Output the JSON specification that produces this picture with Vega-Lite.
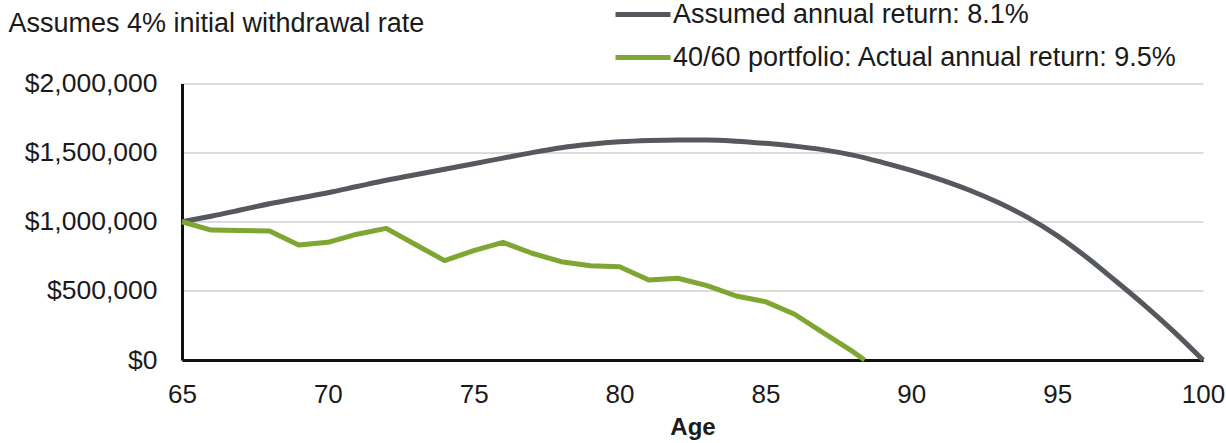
{
  "$schema": "https://vega.github.io/schema/vega-lite/v6.json",
  "width": 1021,
  "height": 276.5,
  "autosize": {"type": "none"},
  "padding": {"left": 182, "top": 83.5, "right": 23, "bottom": 83},
  "background": "white",
  "config": {
    "font": "Liberation Sans",
    "view": {"stroke": null}
  },
  "data": {
    "values": [
      {"age": 65, "value": 1000000, "series": "Assumed annual return: 8.1%"},
      {"age": 66, "value": 1040000, "series": "Assumed annual return: 8.1%"},
      {"age": 67, "value": 1085000, "series": "Assumed annual return: 8.1%"},
      {"age": 68, "value": 1130000, "series": "Assumed annual return: 8.1%"},
      {"age": 69, "value": 1170000, "series": "Assumed annual return: 8.1%"},
      {"age": 70, "value": 1210000, "series": "Assumed annual return: 8.1%"},
      {"age": 71, "value": 1255000, "series": "Assumed annual return: 8.1%"},
      {"age": 72, "value": 1300000, "series": "Assumed annual return: 8.1%"},
      {"age": 73, "value": 1340000, "series": "Assumed annual return: 8.1%"},
      {"age": 74, "value": 1380000, "series": "Assumed annual return: 8.1%"},
      {"age": 75, "value": 1420000, "series": "Assumed annual return: 8.1%"},
      {"age": 76, "value": 1460000, "series": "Assumed annual return: 8.1%"},
      {"age": 77, "value": 1500000, "series": "Assumed annual return: 8.1%"},
      {"age": 78, "value": 1535000, "series": "Assumed annual return: 8.1%"},
      {"age": 79, "value": 1560000, "series": "Assumed annual return: 8.1%"},
      {"age": 80, "value": 1578000, "series": "Assumed annual return: 8.1%"},
      {"age": 81, "value": 1588000, "series": "Assumed annual return: 8.1%"},
      {"age": 82, "value": 1592000, "series": "Assumed annual return: 8.1%"},
      {"age": 83, "value": 1592000, "series": "Assumed annual return: 8.1%"},
      {"age": 84, "value": 1583000, "series": "Assumed annual return: 8.1%"},
      {"age": 85, "value": 1567000, "series": "Assumed annual return: 8.1%"},
      {"age": 86, "value": 1547000, "series": "Assumed annual return: 8.1%"},
      {"age": 87, "value": 1520000, "series": "Assumed annual return: 8.1%"},
      {"age": 88, "value": 1482000, "series": "Assumed annual return: 8.1%"},
      {"age": 89, "value": 1430000, "series": "Assumed annual return: 8.1%"},
      {"age": 90, "value": 1372000, "series": "Assumed annual return: 8.1%"},
      {"age": 91, "value": 1305000, "series": "Assumed annual return: 8.1%"},
      {"age": 92, "value": 1228000, "series": "Assumed annual return: 8.1%"},
      {"age": 93, "value": 1137000, "series": "Assumed annual return: 8.1%"},
      {"age": 94, "value": 1030000, "series": "Assumed annual return: 8.1%"},
      {"age": 95, "value": 900000, "series": "Assumed annual return: 8.1%"},
      {"age": 96, "value": 745000, "series": "Assumed annual return: 8.1%"},
      {"age": 97, "value": 573000, "series": "Assumed annual return: 8.1%"},
      {"age": 98, "value": 395000, "series": "Assumed annual return: 8.1%"},
      {"age": 99, "value": 205000, "series": "Assumed annual return: 8.1%"},
      {"age": 100, "value": 0, "series": "Assumed annual return: 8.1%"},
      {"age": 65, "value": 1000000, "series": "40/60 portfolio: Actual annual return: 9.5%"},
      {"age": 66, "value": 940000, "series": "40/60 portfolio: Actual annual return: 9.5%"},
      {"age": 67, "value": 937000, "series": "40/60 portfolio: Actual annual return: 9.5%"},
      {"age": 68, "value": 933000, "series": "40/60 portfolio: Actual annual return: 9.5%"},
      {"age": 69, "value": 832000, "series": "40/60 portfolio: Actual annual return: 9.5%"},
      {"age": 70, "value": 851000, "series": "40/60 portfolio: Actual annual return: 9.5%"},
      {"age": 71, "value": 910000, "series": "40/60 portfolio: Actual annual return: 9.5%"},
      {"age": 72, "value": 952000, "series": "40/60 portfolio: Actual annual return: 9.5%"},
      {"age": 73, "value": 835000, "series": "40/60 portfolio: Actual annual return: 9.5%"},
      {"age": 74, "value": 719000, "series": "40/60 portfolio: Actual annual return: 9.5%"},
      {"age": 75, "value": 791000, "series": "40/60 portfolio: Actual annual return: 9.5%"},
      {"age": 76, "value": 851000, "series": "40/60 portfolio: Actual annual return: 9.5%"},
      {"age": 77, "value": 772000, "series": "40/60 portfolio: Actual annual return: 9.5%"},
      {"age": 78, "value": 711000, "series": "40/60 portfolio: Actual annual return: 9.5%"},
      {"age": 79, "value": 682000, "series": "40/60 portfolio: Actual annual return: 9.5%"},
      {"age": 80, "value": 675000, "series": "40/60 portfolio: Actual annual return: 9.5%"},
      {"age": 81, "value": 579000, "series": "40/60 portfolio: Actual annual return: 9.5%"},
      {"age": 82, "value": 591000, "series": "40/60 portfolio: Actual annual return: 9.5%"},
      {"age": 83, "value": 538000, "series": "40/60 portfolio: Actual annual return: 9.5%"},
      {"age": 84, "value": 463000, "series": "40/60 portfolio: Actual annual return: 9.5%"},
      {"age": 85, "value": 422000, "series": "40/60 portfolio: Actual annual return: 9.5%"},
      {"age": 86, "value": 331000, "series": "40/60 portfolio: Actual annual return: 9.5%"},
      {"age": 87, "value": 195000, "series": "40/60 portfolio: Actual annual return: 9.5%"},
      {"age": 88, "value": 60000, "series": "40/60 portfolio: Actual annual return: 9.5%"},
      {"age": 88.4, "value": 0, "series": "40/60 portfolio: Actual annual return: 9.5%"}
    ]
  },
  "encoding": {
    "x": {
      "field": "age",
      "type": "quantitative",
      "scale": {"domain": [65, 100], "nice": false, "zero": false},
      "axis": {
        "values": [65, 70, 75, 80, 85, 90, 95, 100],
        "title": "Age",
        "titleFontSize": 24,
        "titleFontWeight": "bold",
        "titleColor": "#1a1a1a",
        "titlePadding": 8,
        "labelFontSize": 26,
        "labelColor": "#1a1a1a",
        "labelPadding": 21,
        "labelFlush": false,
        "ticks": false,
        "tickSize": 0,
        "grid": false,
        "domainColor": "#111111",
        "domainWidth": 3
      }
    },
    "y": {
      "field": "value",
      "type": "quantitative",
      "scale": {"domain": [0, 2000000], "nice": false},
      "axis": {
        "values": [0, 500000, 1000000, 1500000, 2000000],
        "format": "$,.0f",
        "title": "Assumes 4% initial withdrawal rate",
        "titleAngle": 0,
        "titleAlign": "left",
        "titleBaseline": "alphabetic",
        "titleX": -174,
        "titleY": -52,
        "titleFontSize": 27,
        "titleFontWeight": "normal",
        "titleColor": "#1a1a1a",
        "labelFontSize": 26.5,
        "labelColor": "#1a1a1a",
        "labelPadding": 25,
        "ticks": false,
        "tickSize": 0,
        "gridColor": "#d0d0d0",
        "gridWidth": 1.5,
        "domainColor": "#111111",
        "domainWidth": 3
      }
    },
    "color": {
      "field": "series",
      "type": "nominal",
      "sort": ["Assumed annual return: 8.1%", "40/60 portfolio: Actual annual return: 9.5%"],
      "scale": {
        "domain": ["Assumed annual return: 8.1%", "40/60 portfolio: Actual annual return: 9.5%"],
        "range": ["#55595d", "#7fa532"]
      },
      "legend": {
        "orient": "none",
        "legendX": 431,
        "legendY": -99,
        "direction": "vertical",
        "title": null,
        "padding": 0,
        "symbolType": "stroke",
        "symbolStrokeWidth": 5,
        "symbolSize": 3025,
        "labelFontSize": 27,
        "labelColor": "#1a1a1a",
        "labelOffset": 0,
        "labelLimit": 700,
        "rowPadding": -15
      }
    }
  },
  "layer": [
    {
      "transform": [{"filter": "datum.series === 'Assumed annual return: 8.1%'"}],
      "mark": {"type": "line", "strokeWidth": 5, "strokeJoin": "round", "strokeCap": "butt", "interpolate": "monotone"}
    },
    {
      "transform": [{"filter": "datum.series !== 'Assumed annual return: 8.1%'"}],
      "mark": {"type": "line", "strokeWidth": 5, "strokeJoin": "round", "strokeCap": "butt"}
    }
  ]
}
